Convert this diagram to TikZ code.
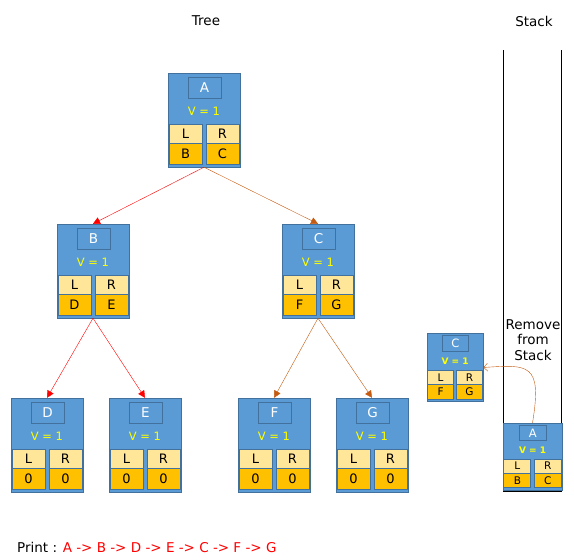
\documentclass[tikz,border=0pt]{standalone}
\usepackage{fontspec}
\setmainfont{DejaVu Sans}
\usetikzlibrary{arrows.meta,fit}

\definecolor{boxblue}{HTML}{5B9BD5}
\definecolor{boxedge}{HTML}{41719C}
\definecolor{keylight}{HTML}{FFE699}
\definecolor{valdark}{HTML}{FFC000}
\definecolor{visityellow}{HTML}{FFFF00}
\definecolor{edgered}{HTML}{FF0000}
\definecolor{edgebrown}{HTML}{C55A11}

\tikzset{
  nodebox/.style={fill=boxblue, draw=boxedge, line width=1pt},
  titlebox/.style={draw=boxedge, line width=1pt},
  keycell/.style={fill=keylight, draw=boxedge, line width=0.8pt},
  valcell/.style={fill=valdark, draw=boxedge, line width=0.8pt},
  titletext/.style={text=white, font=\fontsize{13.5}{15}\selectfont, inner sep=0pt},
  vtext/.style={text=visityellow, font=\fontsize{11.5}{13}\selectfont, inner sep=0pt},
  celltext/.style={text=black, font=\fontsize{13}{15}\selectfont, inner sep=0pt},
  stackfonts/.style={
    titletext/.append style={font=\fontsize{11.5}{13}\selectfont},
    vtext/.append style={font=\bfseries\fontsize{9}{10}\selectfont},
    celltext/.append style={font=\fontsize{10.5}{12}\selectfont}},
  redlink/.style={draw=edgered, -{Triangle[length=7pt,width=7pt]}},
  brownlink/.style={draw=edgebrown, -{Triangle[length=7pt,width=7pt]}},
  poplink/.style={draw=edgebrown, -{Straight Barb[length=4pt,width=8pt]}},
  label/.style={font=\fontsize{13.5}{15.5}\selectfont, inner sep=0pt}
}

% one tree node: name, top-left corner, scope options, title, left child, right child
\newcommand\vnode[6]{%
  \begin{scope}[shift={#2},#3]
    \draw[nodebox] (0,0) rectangle (72,94);
    \draw[titlebox] (20,4) rectangle (53,25);
    \node[titletext] at (36.5,14.5) {#4};
    \node[vtext] at (36,38) {V = 1};
    \draw[keycell] (1,51) rectangle (34,70);
    \draw[keycell] (38,51) rectangle (71,70);
    \draw[valcell] (1,70) rectangle (34,91);
    \draw[valcell] (38,70) rectangle (71,91);
    \node[celltext] at (17.5,60.5) {L};
    \node[celltext] at (54.5,60.5) {R};
    \node[celltext] at (17.5,80.5) {#5};
    \node[celltext] at (54.5,80.5) {#6};
    \node[fit={(0,0) (72,94)}, inner sep=0pt] (#1) {};
  \end{scope}}

\begin{document}
\begin{tikzpicture}[x=1pt,y=-1pt]
  \useasboundingbox (0,0) rectangle (574,560);

  \node[label] (treetitle) at (206,21) {Tree};
  \node[label] (stacktitle) at (534,21) {Stack};

  % the tree
  \vnode{A}{(168,73)}{}{A}{B}{C}
  \vnode{B}{(57,224)}{}{B}{D}{E}
  \vnode{C}{(282,224)}{}{C}{F}{G}
  \vnode{D}{(11,398)}{}{D}{0}{0}
  \vnode{E}{(109,398)}{}{E}{0}{0}
  \vnode{F}{(238,398)}{}{F}{0}{0}
  \vnode{G}{(336,398)}{}{G}{0}{0}

  \draw[redlink] (A.south) -- (B.north);
  \draw[brownlink] (A.south) -- (C.north);
  \draw[redlink] (B.south) -- (D.north);
  \draw[redlink] (B.south) -- (E.north);
  \draw[brownlink] (C.south) -- (F.north);
  \draw[brownlink] (C.south) -- (G.north);

  % the stack
  \draw[line width=1pt] (503,50) -- (503,491) -- (561,491) -- (561,50);
  \vnode{sA}{(503,423)}{xscale=0.82,yscale=0.713,stackfonts}{A}{B}{C}
  \vnode{sC}{(427,333)}{xscale=0.78,yscale=0.734,stackfonts}{C}{F}{G}
  \node[label, align=center] (remove) at (533,340) {Remove\\from\\Stack};
  \draw[poplink] (sA.north) .. controls +(10,-60) and +(45,-3) .. (sC.east);

  \node[label, anchor=west] (print) at (17,547) {Print : \textcolor{edgered}{A -> B -> D -> E -> C -> F -> G}};
\end{tikzpicture}
\end{document}
